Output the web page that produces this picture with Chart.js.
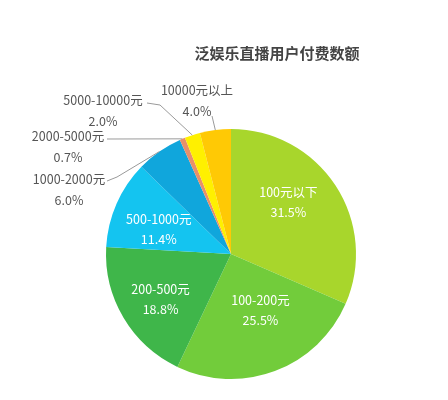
<!DOCTYPE html>
<html>
<head>
<meta charset="utf-8">
<script src="https://cdn.jsdelivr.net/npm/chart.js@4/dist/chart.umd.min.js"></script>
<style>
  html, body { margin: 0; padding: 0; background: #fff; }
</style>
</head>
<body>
<canvas id="myChart" width="448" height="400"></canvas>
<script>
const title = '泛娱乐直播用户付费数额';
const categories = ['100元以下', '100-200元', '200-500元', '500-1000元', '1000-2000元', '2000-5000元', '5000-10000元', '10000元以上'];
const shares = [31.5, 25.5, 18.8, 11.4, 6.0, 0.7, 2.0, 4.0];
const colors = ['#a8d62c', '#72cc3b', '#3fb64a', '#14c4f0', '#10a6dc', '#e8906a', '#fff000', '#ffc905'];
const FONT = '"Noto Sans CJK SC", "Noto Sans", sans-serif';

// labels inside the big slices: index -> [angle shift in degrees, radius fraction]
const inside = { 0: [-9, 0.62], 1: [-7, 0.51], 2: [-2, 0.67], 3: [-5, 0.61] };
// outside labels for small slices: text anchor relative to pie centre, leader start, elbow
const outside = {
  7: { tx: -34, ty: -164, lx: -19, ly: -138, ex: null, ey: null },
  6: { tx: -128, ty: -154, lx: -84, ly: -151, ex: -71, ey: -149 },
  5: { tx: -163, ty: -118, lx: -124, ly: -115, ex: null, ey: null },
  4: { tx: -162, ty: -75, lx: -124, ly: -73, ex: -114, ey: -77 }
};

const labelPlugin = {
  id: 'labels',
  afterDraw(chart) {
    const ctx = chart.ctx;
    const arcs = chart.getDatasetMeta(0).data;
    ctx.save();
    // title
    ctx.font = 'bold 15px ' + FONT;
    ctx.fillStyle = '#444';
    ctx.textAlign = 'center';
    ctx.textBaseline = 'middle';
    ctx.fillText(title, 277, 53);

    // inside labels
    ctx.font = '12.5px ' + FONT;
    ctx.fillStyle = '#fff';
    Object.keys(inside).forEach(k => {
      const i = +k, a = arcs[i];
      const mid = (a.startAngle + a.endAngle) / 2 + inside[k][0] * Math.PI / 180;
      const r = a.outerRadius * inside[k][1];
      const x = a.x + Math.cos(mid) * r;
      const y = a.y + Math.sin(mid) * r;
      ctx.fillText(categories[i], x, y - 10);
      ctx.fillText(shares[i].toFixed(1) + '%', x, y + 10);
    });

    // outside labels with leader lines
    ctx.strokeStyle = '#9a9a9a';
    ctx.lineWidth = 1;
    Object.keys(outside).forEach(k => {
      const i = +k, o = outside[k], a = arcs[i];
      const mid = (a.startAngle + a.endAngle) / 2;
      const px = a.x + Math.cos(mid) * a.outerRadius;
      const py = a.y + Math.sin(mid) * a.outerRadius;
      ctx.beginPath();
      ctx.moveTo(a.x + o.lx, a.y + o.ly);
      if (o.ex !== null) ctx.lineTo(a.x + o.ex, a.y + o.ey);
      ctx.lineTo(px, py);
      ctx.stroke();
      ctx.fillStyle = '#555';
      ctx.fillText(categories[i], a.x + o.tx, a.y + o.ty);
      ctx.fillText(shares[i].toFixed(1) + '%', a.x + o.tx, a.y + o.ty + 21);
    });
    ctx.restore();
  }
};

const ctx = document.getElementById('myChart').getContext('2d');
const chart = new Chart(ctx, {
  type: 'pie',
  data: {
    labels: categories,
    datasets: [{
      data: shares,
      backgroundColor: colors,
      borderWidth: 0
    }]
  },
  options: {
    responsive: false,
    animation: false,
    layout: { padding: { left: 106, right: 92, top: 129, bottom: 21 } },
    plugins: {
      legend: { display: false },
      tooltip: { enabled: false }
    }
  },
  plugins: [labelPlugin]
});
</script>
</body>
</html>
